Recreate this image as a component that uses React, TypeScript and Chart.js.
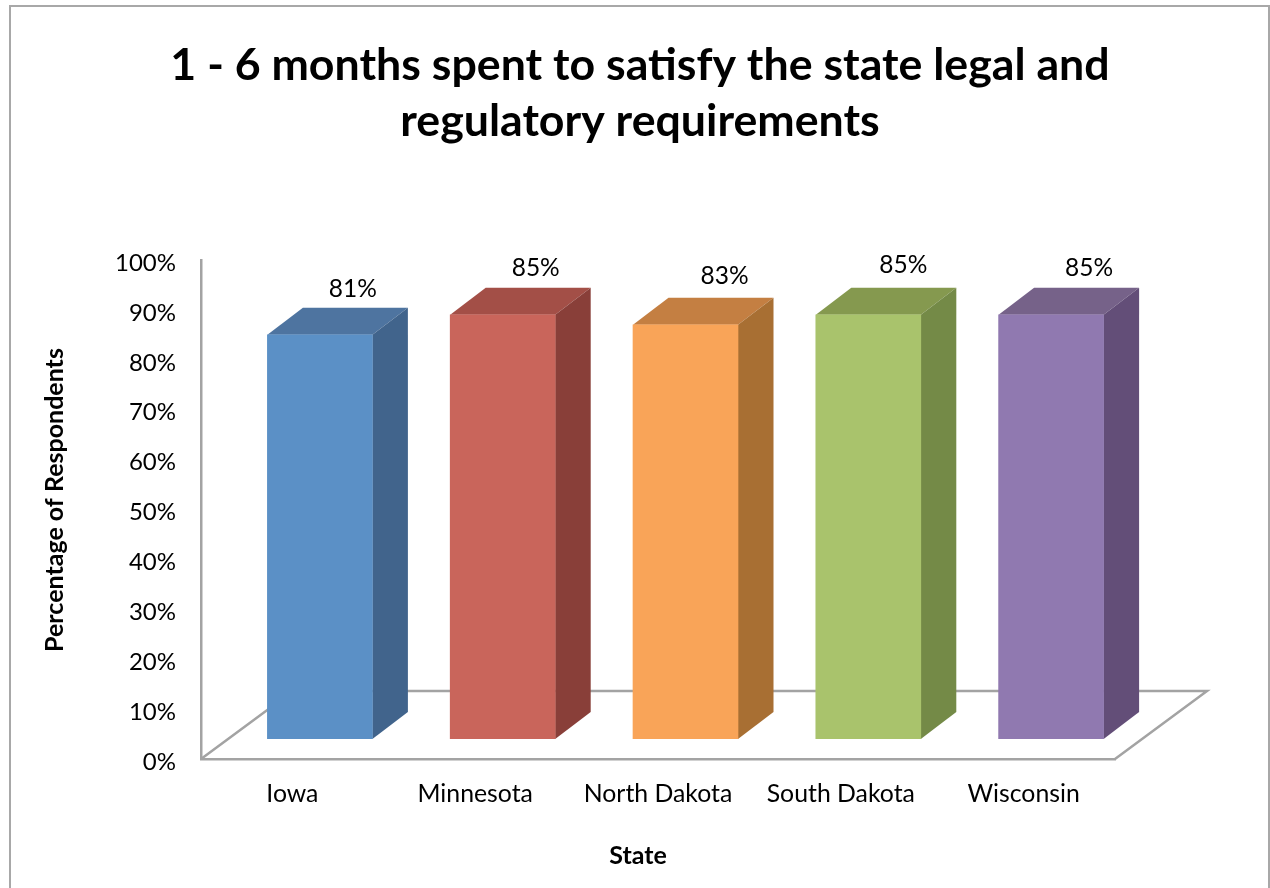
import React, { useEffect, useRef } from "react";
import { Chart, registerables } from "chart.js";

Chart.register(...registerables);

const titleLines = ["1 - 6 months spent to satisfy the state legal and", "regulatory requirements"];
const states = ["Iowa", "Minnesota", "North Dakota", "South Dakota", "Wisconsin"];
const percentages = [81, 85, 83, 85, 85];
const frontColors = ["#5b90c6", "#c9655b", "#f9a458", "#a9c36c", "#9079b0"];
const topColors = ["#4e74a0", "#a34f47", "#c47f42", "#85994f", "#766289"];
const sideColors = ["#41648c", "#893f39", "#a86f33", "#748a47", "#634e78"];
const labelNudges: [number, number][] = [[33, -46], [33, -47], [39, -49], [35, -50], [38, -47]];
const xAxisTitle = "State";
const yAxisTitle = "Percentage of Respondents";

const FONT = 'Lato, sans-serif';
const GRAY = "#a3a3a3";
const SHIFT_X = 27.5;
const SHIFT_Y = -20;
const DEPTH_X = 35.5;
const DEPTH_Y = -27;
const FLOOR_X = 92;
const FLOOR_Y = -68;

function poly(ctx: CanvasRenderingContext2D, pts: number[][], fill: string) {
  ctx.beginPath();
  pts.forEach(([x, y], i) => (i ? ctx.lineTo(x, y) : ctx.moveTo(x, y)));
  ctx.closePath();
  ctx.fillStyle = fill;
  ctx.fill();
}

const scene3d = {
  id: "scene3d",
  beforeDraw(chart: any) {
    const ctx = chart.ctx;
    ctx.save();
    ctx.strokeStyle = "#a8a8a8";
    ctx.lineWidth = 2;
    ctx.beginPath();
    ctx.moveTo(10, 888);
    ctx.lineTo(10, 6);
    ctx.lineTo(1269, 6);
    ctx.lineTo(1269, 888);
    ctx.stroke();
    ctx.restore();
  },
  beforeDatasetsDraw(chart: any) {
    const ctx = chart.ctx;
    const { left, right, bottom } = chart.chartArea;
    ctx.save();
    ctx.strokeStyle = GRAY;
    ctx.lineWidth = 2.5;
    ctx.beginPath();
    ctx.moveTo(left, bottom);
    ctx.lineTo(left + FLOOR_X, bottom + FLOOR_Y);
    ctx.lineTo(right + FLOOR_X, bottom + FLOOR_Y);
    ctx.lineTo(right, bottom);
    ctx.stroke();
    chart.getDatasetMeta(0).data.forEach((bar: any, i: number) => {
      const l = bar.x - bar.width / 2 + SHIFT_X;
      const r = bar.x + bar.width / 2 + SHIFT_X;
      const t = bar.y + SHIFT_Y;
      const b = bar.base + SHIFT_Y;
      poly(ctx, [[l, t], [r, t], [r + DEPTH_X, t + DEPTH_Y], [l + DEPTH_X, t + DEPTH_Y]], topColors[i]);
      poly(ctx, [[r, t], [r + DEPTH_X, t + DEPTH_Y], [r + DEPTH_X, b + DEPTH_Y], [r, b]], sideColors[i]);
    });
    ctx.translate(SHIFT_X, SHIFT_Y);
  },
  afterDatasetsDraw(chart: any) {
    const ctx = chart.ctx;
    ctx.restore();
    ctx.save();
    ctx.font = `24.5px ${FONT}`;
    ctx.fillStyle = "#000";
    ctx.textAlign = "center";
    ctx.textBaseline = "middle";
    chart.getDatasetMeta(0).data.forEach((bar: any, i: number) => {
      const [dx, dy] = labelNudges[i];
      ctx.fillText(`${percentages[i]}%`, bar.x + SHIFT_X + dx, bar.y + SHIFT_Y + dy);
    });
    ctx.font = `bold 25px ${FONT}`;
    ctx.fillText(xAxisTitle, 638, 856);
    ctx.translate(55, 500);
    ctx.rotate(-Math.PI / 2);
    ctx.fillText(yAxisTitle, 0, 0);
    ctx.restore();
  },
};

export default function App() {
  const ref = useRef<HTMLCanvasElement>(null);
  useEffect(() => {
    document.body.style.margin = "0";
    const chart = new Chart(ref.current!, {
      type: "bar",
      data: {
        labels: states,
        datasets: [{ data: percentages, backgroundColor: frontColors, barThickness: 105, borderWidth: 0, yAxisID: "y" }],
      },
      options: {
        animation: false,
        responsive: false,
        layout: { padding: { left: 10, right: 0, top: 0, bottom: 0 } },
        plugins: {
          legend: { display: false },
          tooltip: { enabled: false },
          title: {
            display: true,
            text: titleLines,
            color: "#000",
            font: { family: FONT, size: 44.7, weight: "bold", lineHeight: 56 / 44.7 },
            padding: { top: 38, bottom: 110 },
          },
        },
        scales: {
          x: {
            grid: { display: false, drawTicks: false },
            border: { color: GRAY, width: 2.5 },
            ticks: { color: "#000", font: { family: FONT, size: 24.8 }, padding: 20, maxRotation: 0, autoSkip: false },
            afterFit: (s: any) => { s.height = 129; },
          },
          y: {
            min: 0,
            max: 100,
            grid: { display: false, drawTicks: false },
            border: { color: GRAY, width: 2.5 },
            ticks: {
              stepSize: 10,
              color: "#000",
              font: { family: FONT, size: 24 },
              padding: 25,
              labelOffset: 3,
              callback: (v: any) => `${v}%`,
            },
            afterFit: (s: any) => { s.width = 191; },
          },
          spacer: {
            type: "linear",
            position: "right",
            grid: { display: false, drawTicks: false },
            border: { display: false },
            ticks: { display: false },
            afterFit: (s: any) => { s.width = 155; },
          },
        },
      },
      plugins: [scene3d],
    } as any);
    return () => chart.destroy();
  }, []);
  return <canvas ref={ref} width={1270} height={888} style={{ display: "block" }} />;
}
